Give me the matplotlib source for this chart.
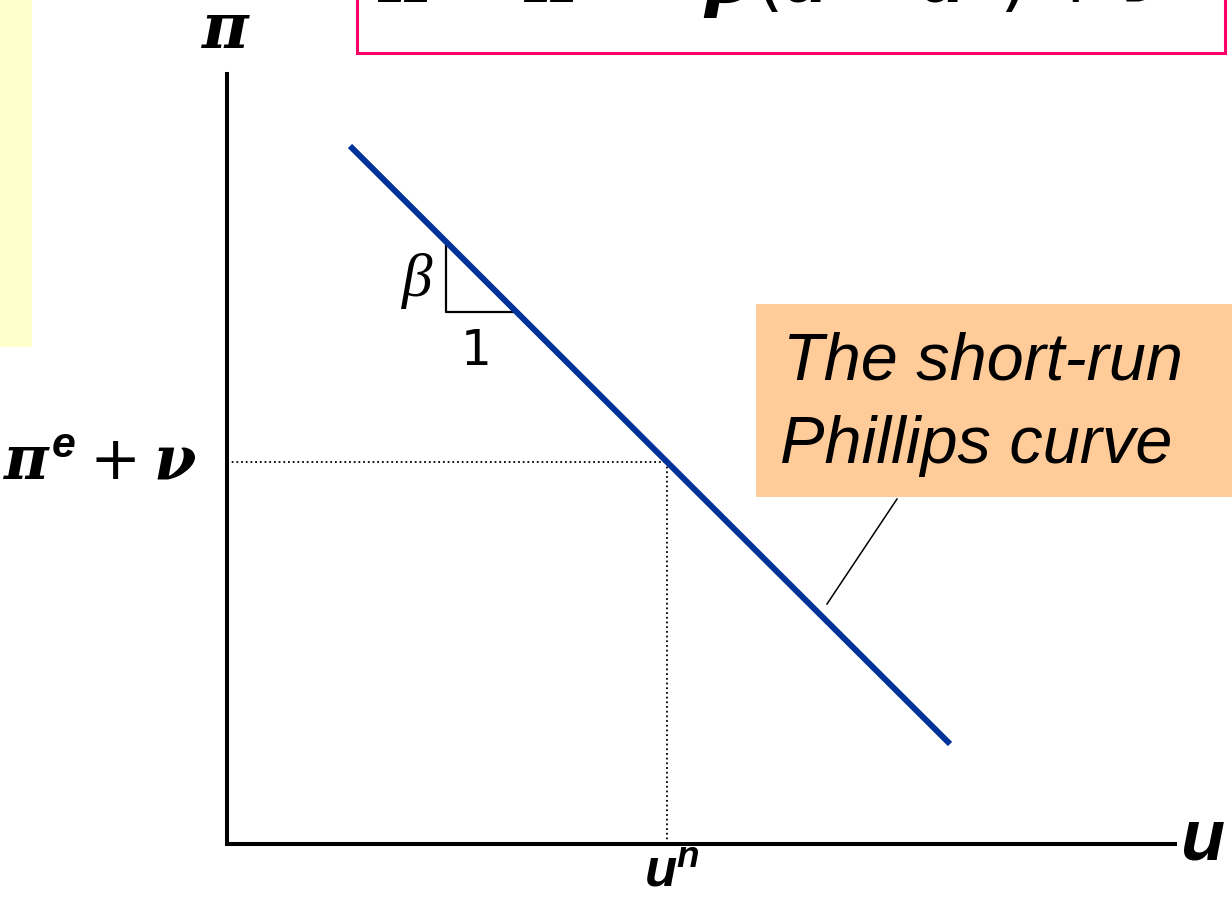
import matplotlib
matplotlib.use('Agg')
import matplotlib.pyplot as plt
from matplotlib.patches import Rectangle

plt.rcParams['mathtext.fontset'] = 'custom'
plt.rcParams['mathtext.it'] = 'DejaVu Serif:style=italic:weight=bold'
plt.rcParams['mathtext.rm'] = 'DejaVu Sans'
plt.rcParams['mathtext.bf'] = 'Liberation Sans:style=italic:weight=bold'

# short-run Phillips curve (units: u along x, pi along y)
curve_u = [1.23, 7.23]
curve_pi = [6.98, 1.00]
u_natural = 4.40
pi_expected = 3.82          # pi^e + nu at u = u^n
slope_u = [2.19, 2.19, 2.90]  # the little beta / 1 triangle
slope_pi = [6.00, 5.32, 5.32]
leader_u = [6.70, 6.00]
leader_pi = [3.45, 2.40]

W, H = 1232, 904
fig = plt.figure(figsize=(W / 100, H / 100), dpi=100)
fig.patch.set_facecolor('white')

# background decorations from the slide
fig.patches.append(Rectangle((0, 1 - 348 / H), 32 / W, 348 / H, transform=fig.transFigure,
                             facecolor='#FFFFCC', edgecolor='none', zorder=0))
fig.patches.append(Rectangle((357 / W, 1 - 54 / H), (1225 - 357) / W, 60 / H,
                             transform=fig.transFigure, facecolor='white',
                             edgecolor='#FF0066', lw=2.2, zorder=1))
fig.text(775 / W, 1 - 2 / H,
         r'$\pi = \pi^{\mathbf{e}} - \beta(\mathbf{u} - \mathbf{u}^{\mathbf{n}}) + \nu$',
         fontsize=53, ha='center', va='baseline', zorder=2)

ax = fig.add_axes([227 / W, (H - 845) / H, (1175 - 227) / W, (845 - 75) / H])
ax.set_xlim(0, 9.48)
ax.set_ylim(0, 7.70)
ax.patch.set_alpha(0)
for s in ['top', 'right']:
    ax.spines[s].set_visible(False)
for s in ['left', 'bottom']:
    ax.spines[s].set_linewidth(2.9)
ax.set_xticks([])
ax.set_yticks([])

ax.plot(curve_u, curve_pi, color='#003399', lw=4.3, solid_capstyle='butt', zorder=3)
ax.plot([0, u_natural], [pi_expected, pi_expected], color='black', lw=1.3,
        linestyle=(0, (1, 1.6)))
ax.plot([u_natural, u_natural], [0, pi_expected], color='black', lw=1.3,
        linestyle=(0, (1, 1.6)))
ax.plot(slope_u, slope_pi, color='black', lw=1.6)
ax.plot(leader_u, leader_pi, color='black', lw=1.1)

ax.text(slope_u[0] - 0.14, (slope_pi[0] + slope_pi[1]) / 2 - 0.02, 'β',
        family='Liberation Serif', style='italic', fontsize=44, ha='right', va='center')
ax.text((slope_u[1] + slope_u[2]) / 2 - 0.05, slope_pi[1] - 0.14, '1', family='DejaVu Sans',
        fontsize=35, ha='center', va='top')

# callout box
ax.add_patch(Rectangle((5.29, 3.47), 5.0, 1.93, facecolor='#FFCC99', edgecolor='none',
                       clip_on=False, zorder=1))
ax.text(5.56, 4.65, 'The short-run', family='Liberation Sans', style='italic',
        fontsize=48, va='baseline', ha='left', zorder=2)
ax.text(5.53, 3.82, 'Phillips curve', family='Liberation Sans', style='italic',
        fontsize=48, va='baseline', ha='left', zorder=2)

# axis labels
ax.text(-0.02, 8.15, r'$\pi$', fontsize=46, ha='center', va='center', clip_on=False)
ax.text(9.76, 0.04, 'u', family='Liberation Sans', weight='bold', style='italic',
        fontsize=52, ha='center', va='center', clip_on=False)
ax.text(u_natural + 0.05, -0.53, r'$\mathbf{u}^{\mathbf{n}}$', fontsize=38, ha='center',
        va='bottom', clip_on=False)
ax.text(-0.30, pi_expected, r'$\pi^{\mathbf{e}} + \nu$', fontsize=44, ha='right',
        va='center', clip_on=False)

fig.savefig('out.png', dpi=100)
